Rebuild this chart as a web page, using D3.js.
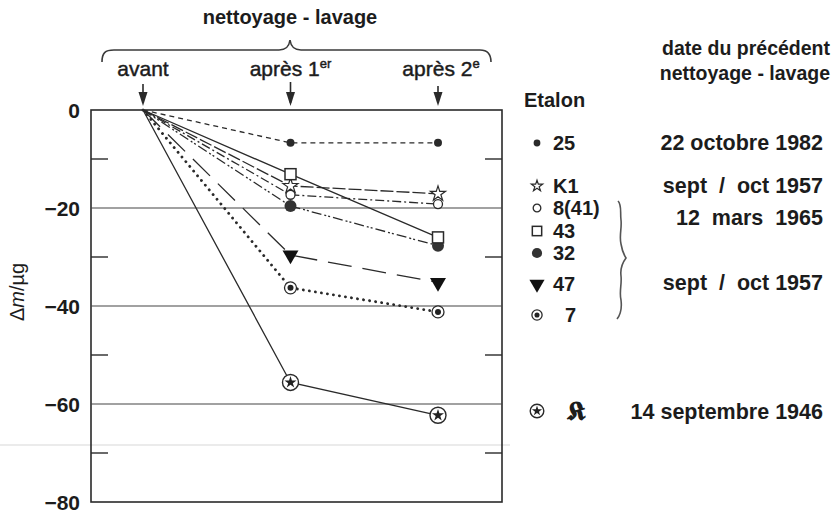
<!DOCTYPE html>
<html><head><meta charset="utf-8">
<script src="https://cdn.jsdelivr.net/npm/d3@7"></script>
<style>
body{margin:0;background:#fff}
text{font-family:"Liberation Sans",Arial,Helvetica,sans-serif;fill:#1c1c1c}
.medium{stroke:#1c1c1c;stroke-width:0.45px}
.tick text{font-weight:bold;font-size:21px}
</style>
</head><body>
<svg id="chart" width="834" height="515"></svg>
<script>
// Mass change of the prototype kilograms after cleaning / washing
const stages = ["avant", "après 1er", "après 2e"];
const etalons = ["25", "K1", "8(41)", "43", "32", "47", "7", "K"];
const afterFirst = [-6.7, -15.5, -17.3, -13.1, -19.6, -29.6, -36.3, -55.6];
const afterSecond = [-6.7, -17.1, -19.2, -26.0, -27.7, -35.2, -41.2, -62.3];
const markers = ["dot", "star", "circle", "square", "disc", "triangle", "circledDot", "circledStar"];
const dashes = ["5 4", "13 3", "9 3 2 3", null, "10 3 2 2 2 3", "24 11", "0.1 6", null];
const dates = ["22 octobre 1982", "sept  /  oct 1957", "12  mars  1965", "sept  /  oct 1957", "14 septembre 1946"];
const majorTicks = [0, -20, -40, -60, -80];
const minorTicks = [-10, -30, -50, -70];

const svg = d3.select("#chart");
const ink = "#2a2a2a";

const x = d3.scalePoint().domain(stages).range([143, 438]);
const y = d3.scaleLinear().domain([0, -80]).range([110, 502]);
const left = 91, right = 502;

// faint scanner streak across the page
svg.append("line").attr("x1", 0).attr("x2", 510).attr("y1", 445).attr("y2", 445)
  .attr("stroke", "#d8d8d8").attr("stroke-width", 1.2);

// frame
svg.append("rect").attr("x", left).attr("y", y(0)).attr("width", right - left)
  .attr("height", y(-80) - y(0)).attr("fill", "none").attr("stroke", ink).attr("stroke-width", 1.6);

// grid lines at the labelled values
svg.append("g").selectAll("line").data(majorTicks.filter(d => d !== 0 && d !== -80)).join("line")
  .attr("x1", left).attr("x2", right).attr("y1", d => y(d)).attr("y2", d => y(d))
  .attr("stroke", "#444").attr("stroke-width", 1.2);

// minor ticks inside both sides
const minor = svg.append("g").attr("stroke", ink).attr("stroke-width", 1.4);
minor.selectAll(".l").data(minorTicks).join("line").attr("class", "l")
  .attr("x1", left).attr("x2", left + 17).attr("y1", d => y(d)).attr("y2", d => y(d));
minor.selectAll(".r").data(minorTicks).join("line").attr("class", "r")
  .attr("x1", right - 17).attr("x2", right).attr("y1", d => y(d)).attr("y2", d => y(d));

// y axis labels
const yAxis = d3.axisLeft(y).tickValues(majorTicks).tickSize(0).tickPadding(11)
  .tickFormat(d => d === 0 ? "0" : "\u2212" + Math.abs(d));
const ya = svg.append("g").attr("transform", `translate(${left},0)`).call(yAxis)
  .attr("font-family", null).attr("font-size", null);
ya.select(".domain").remove();
ya.selectAll("text").attr("fill", "#1c1c1c").attr("dy", "0.36em");

// y axis title
const yt = svg.append("text").attr("transform", "translate(24,292) rotate(-90)")
  .attr("text-anchor", "middle").style("font-size", "20px");
yt.append("tspan").text("\u0394");
yt.append("tspan").text("m").style("font-style", "italic");
yt.append("tspan").text("/\u00b5g");

// top header: bracket, stage names and arrows
svg.append("text").attr("x", 290).attr("y", 24).attr("text-anchor", "middle")
  .style("font-size", "20px").style("font-weight", "bold").text("nettoyage - lavage");
svg.append("path")
  .attr("d", "M102,62 C102,53 105,50 114,50 L279,50 C286,50 289,47 290,40 C291,47 294,50 301,50 L480,50 C488,50 491,54 491,62")
  .attr("fill", "none").attr("stroke", "#3a3a3a").attr("stroke-width", 1.6);

const stageLabels = [
  {s: stages[0], main: "avant", sup: ""},
  {s: stages[1], main: "après 1", sup: "er"},
  {s: stages[2], main: "après 2", sup: "e"}
];
stageLabels.forEach((d, i) => {
  const cx = x(d.s) + (i === 2 ? 3 : 0);
  const t = svg.append("text").attr("class", "medium").attr("x", cx).attr("y", 76).attr("text-anchor", "middle")
    .style("font-size", "21px");
  t.append("tspan").text(d.main);
  if (d.sup) t.append("tspan").text(d.sup).attr("dy", -8).style("font-size", "13px");
  const top = i === 0 ? 84 : (i === 1 ? 82 : 86);
  svg.append("line").attr("x1", x(d.s)).attr("x2", x(d.s)).attr("y1", top).attr("y2", 103)
    .attr("stroke", ink).attr("stroke-width", 1.6);
  svg.append("path").attr("d", `M${x(d.s) - 4.5},${92} L${x(d.s) + 4.5},${92} L${x(d.s)},${106} Z`)
    .attr("fill", ink);
});

// series lines
const series = etalons.map((name, i) => ({
  name, marker: markers[i], dash: dashes[i],
  values: [0, afterFirst[i], afterSecond[i]]
}));
const line = d3.line().x((d, j) => x(stages[j])).y(d => y(d));
svg.append("g").selectAll("path").data(series).join("path")
  .attr("d", d => line(d.values))
  .attr("fill", "none").attr("stroke", ink)
  .attr("stroke-width", d => d.marker === "circledDot" ? 2.8 : 1.3)
  .attr("stroke-linecap", d => d.marker === "circledDot" ? "round" : "butt")
  .attr("stroke-dasharray", d => d.dash);

// marker drawing
function drawMarker(g, type, cx, cy, scale = 1) {
  const sym = (t, s) => d3.symbol().type(t).size(s * scale * scale)();
  const at = g.append("g").attr("transform", `translate(${cx},${cy})`);
  switch (type) {
    case "dot":
      at.append("circle").attr("r", 4 * scale).attr("fill", ink); break;
    case "disc":
      at.append("circle").attr("r", 6 * scale).attr("fill", "#333"); break;
    case "circle":
      at.append("circle").attr("r", 4.5 * scale).attr("fill", "#fff").attr("stroke", ink).attr("stroke-width", 1.3); break;
    case "square":
      at.append("rect").attr("x", -5.5 * scale).attr("y", -5.5 * scale).attr("width", 11 * scale).attr("height", 11 * scale)
        .attr("fill", "#fff").attr("stroke", ink).attr("stroke-width", 1.5); break;
    case "star":
      at.append("path").attr("d", sym(d3.symbolStar, 70)).attr("fill", "#fff").attr("stroke", ink).attr("stroke-width", 1.2); break;
    case "triangle":
      at.append("path").attr("d", sym(d3.symbolTriangle, 110)).attr("transform", "rotate(180)").attr("fill", "#111"); break;
    case "circledDot":
      at.append("circle").attr("r", 6 * scale).attr("fill", "#fff").attr("stroke", ink).attr("stroke-width", 1.3);
      at.append("circle").attr("r", 3 * scale).attr("fill", "#222"); break;
    case "circledStar":
      at.append("circle").attr("r", 8 * scale).attr("fill", "#fff").attr("stroke", ink).attr("stroke-width", 1.4);
      at.append("path").attr("d", sym(d3.symbolStar, 45)).attr("fill", "#222"); break;
  }
}

const mg = svg.append("g");
// draw markers in an order that keeps the clustered symbols readable
[0, 4, 2, 1, 3, 5, 6, 7].forEach(i => {
  const s = series[i];
  drawMarker(mg, s.marker, x(stages[1]), y(s.values[1]));
  drawMarker(mg, s.marker, x(stages[2]), y(s.values[2]));
});

// legend
svg.append("text").attr("x", 524).attr("y", 107).style("font-size", "20px").style("font-weight", "bold").text("Etalon");
svg.append("text").attr("x", 830).attr("y", 55).attr("text-anchor", "end").style("font-size", "19.5px").style("font-weight", "bold").text("date du précédent");
svg.append("text").attr("x", 830).attr("y", 80).attr("text-anchor", "end").style("font-size", "19.5px").style("font-weight", "bold").text("nettoyage - lavage");

const legendRows = [143, 186, 208, 231, 253, 284, 315, 411];
const legendScale = [0.85, 0.75, 0.85, 0.85, 0.85, 0.95, 0.85, 0.85];
const lg = svg.append("g");
series.forEach((s, i) => {
  drawMarker(lg, s.marker, 537, legendRows[i], legendScale[i]);
  if (s.name === "K") {
    lg.append("text").attr("x", 567).attr("y", legendRows[i] + 9)
      .style("font-family", '"DejaVu Serif","DejaVu Sans",serif').style("font-size", "26px").style("font-weight", "bold")
      .text("\u{1D576}");
  } else {
    lg.append("text").attr("x", s.name === "7" ? 565 : 553).attr("y", legendRows[i] + 7)
      .style("font-size", "20px").style("font-weight", "bold").text(s.name);
  }
});

const dateRows = [150, 193, 225, 290, 419];
svg.append("g").selectAll("text").data(dates).join("text")
  .attr("x", 823).attr("y", (d, i) => dateRows[i]).attr("text-anchor", "end")
  .style("font-size", "21.5px").style("font-weight", "bold").style("white-space", "pre").text(d => d);

// brace grouping the etalons washed together
svg.append("path")
  .attr("d", "M618,201 C622,205 620,212 621,220 C622,228 619,236 621,244 C622,250 624,255 626,258 C623,262 620,268 621,276 C622,284 619,292 621,300 C622,308 621,314 617,319")
  .attr("fill", "none").attr("stroke", "#555").attr("stroke-width", 1.6);
</script>
</body></html>
